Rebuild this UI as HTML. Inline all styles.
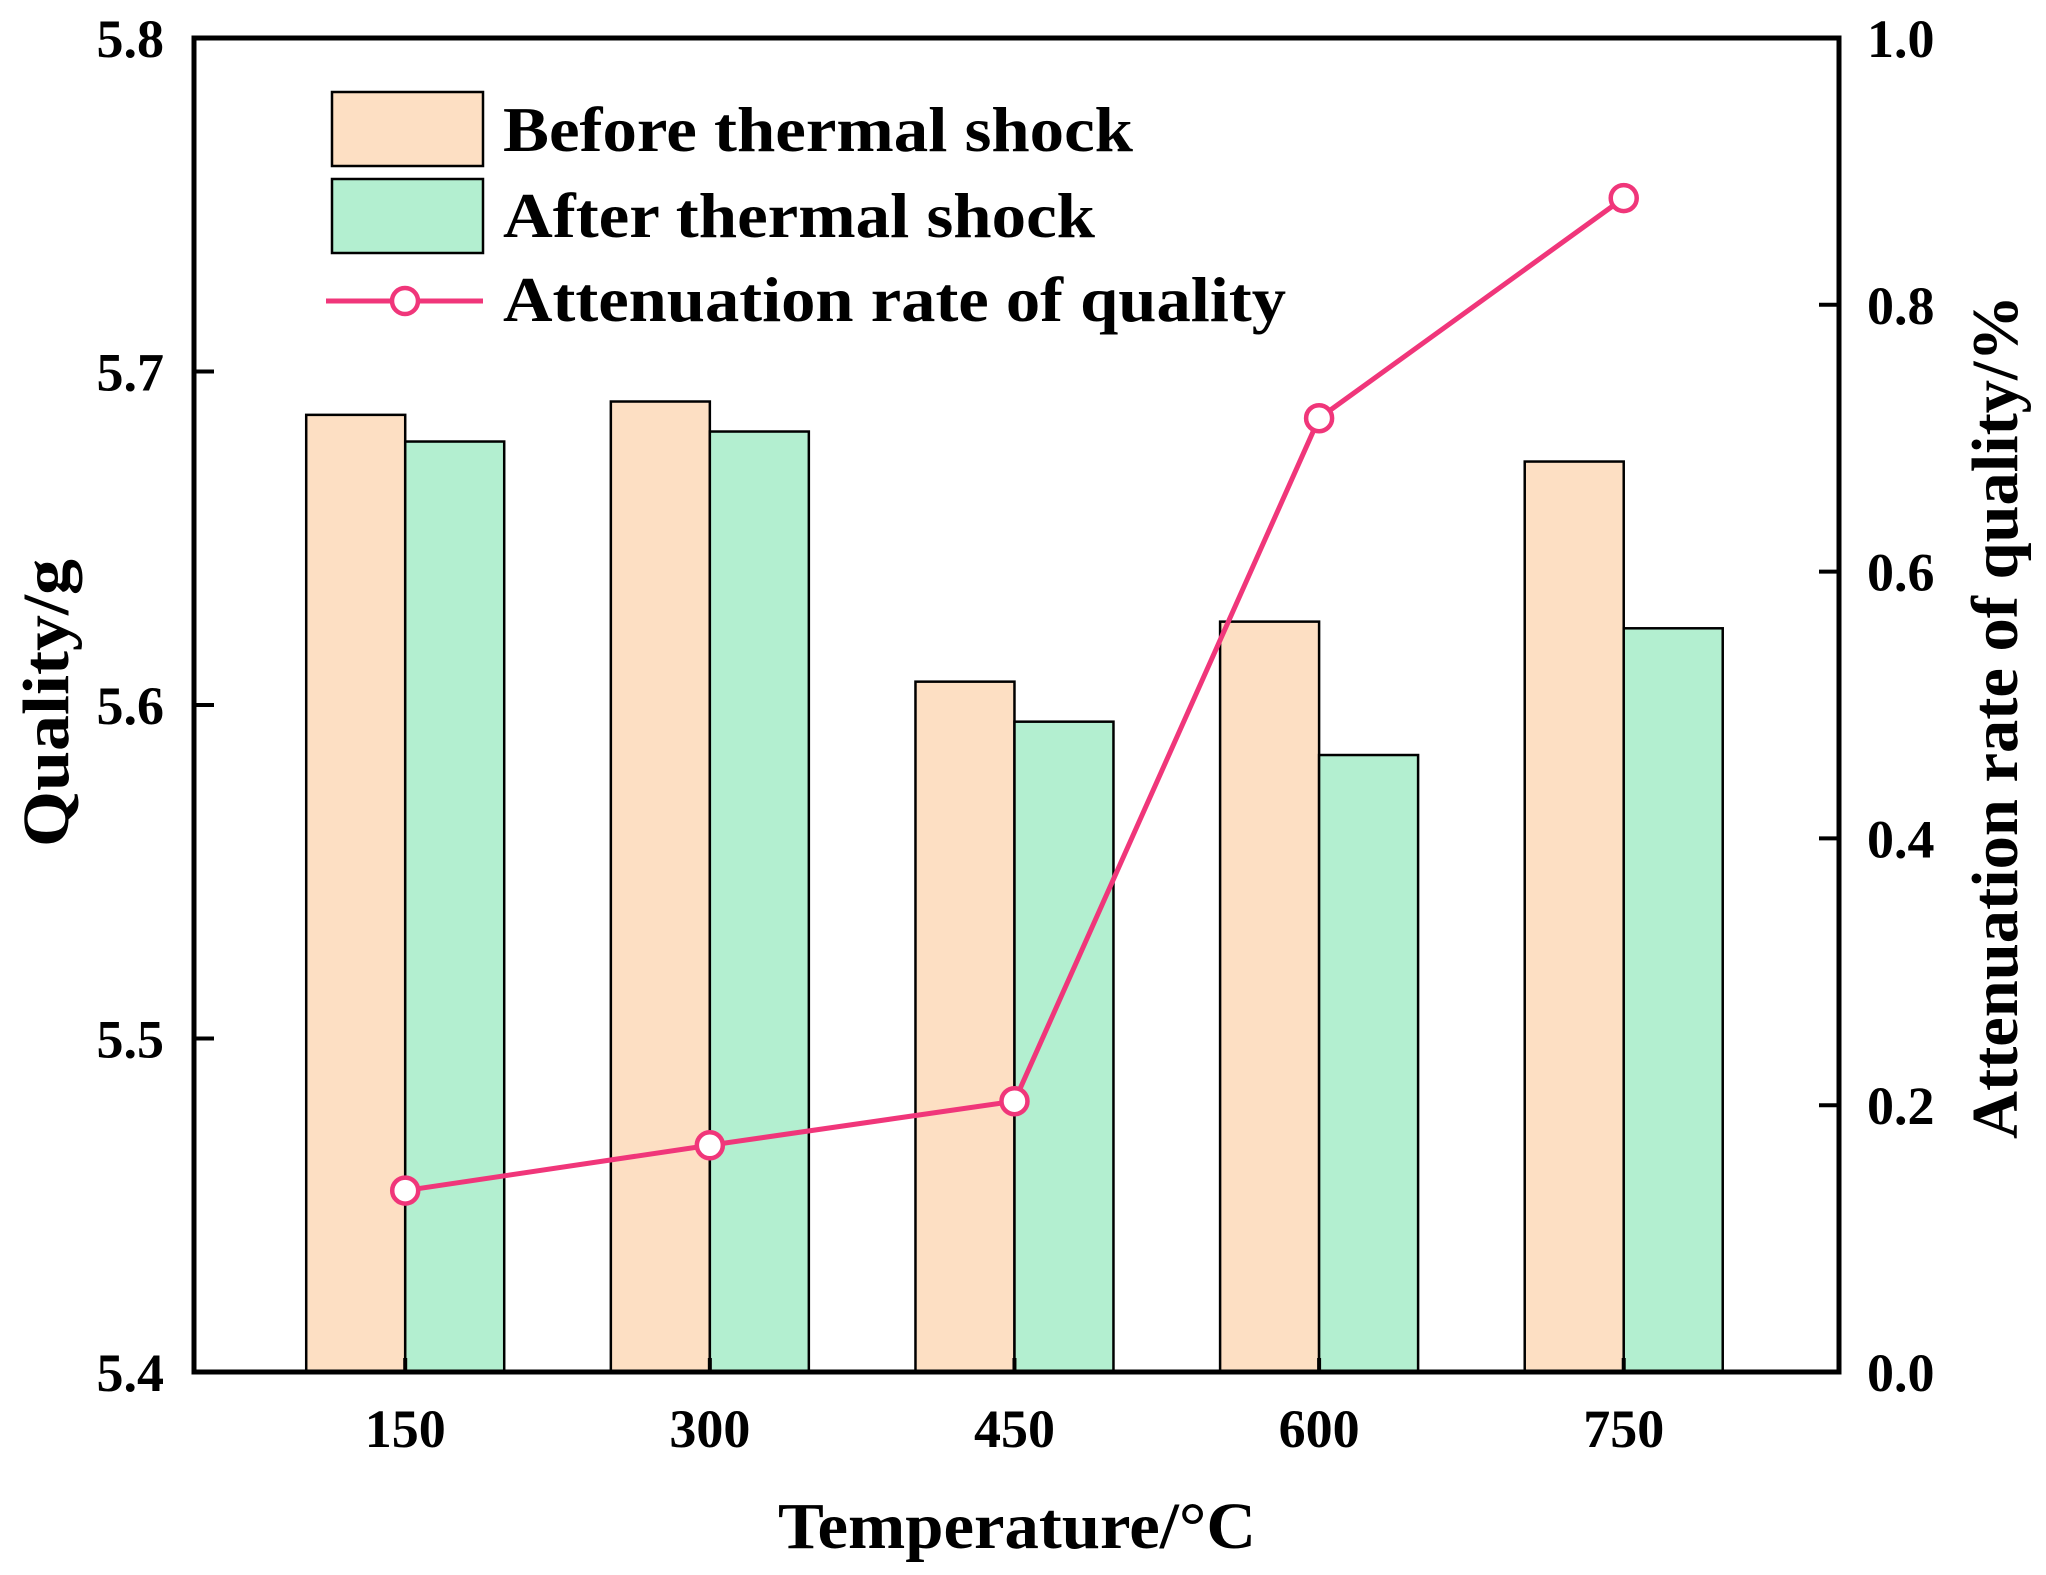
<!DOCTYPE html>
<html><head><meta charset="utf-8"><style>
html,body{margin:0;padding:0;background:#fff;}
svg{display:block;font-family:"Liberation Serif",serif;font-weight:bold;}
</style></head><body>
<svg id="chart" width="2046" height="1575" viewBox="0 0 2046 1575"></svg>
<script>
const categories = [150, 300, 450, 600, 750];
const beforeValues = [5.687, 5.691, 5.607, 5.625, 5.673];
const afterValues = [5.679, 5.682, 5.595, 5.585, 5.623];
const rateValues = [0.136, 0.170, 0.203, 0.715, 0.880];
const leftTicks = [5.4, 5.5, 5.6, 5.7, 5.8];
const rightTicks = [0.0, 0.2, 0.4, 0.6, 0.8, 1.0];

const NS = 'http://www.w3.org/2000/svg';
const svg = document.getElementById('chart');
const L = 194, R = 1839, T = 38, B = 1372;
const xMin = 46, xMax = 856;
const x = v => L + (v - xMin) / (xMax - xMin) * (R - L);
const yL = v => B - (v - 5.4) / 0.4 * (B - T);
const yR = v => B - v / 1.0 * (B - T);
const barW = 99;

function el(tag, attrs, parent) {
  const e = document.createElementNS(NS, tag);
  for (const k in attrs) e.setAttribute(k, attrs[k]);
  (parent || svg).appendChild(e);
  return e;
}

categories.forEach((c, i) => {
  const cx = x(c);
  const b = el('rect', {x: cx - barW, y: yL(beforeValues[i]), width: barW, height: B - yL(beforeValues[i]), fill: '#fddfc3', stroke: '#000', 'stroke-width': 2.5});
  
  
  const a = el('rect', {x: cx, y: yL(afterValues[i]), width: barW, height: B - yL(afterValues[i]), fill: '#b3efd0', stroke: '#000', 'stroke-width': 2.5});
  
  
});

const pts = categories.map((c, i) => x(c) + ',' + yR(rateValues[i])).join(' ');
const line = el('polyline', {points: pts, fill: 'none', stroke: '#f0367a', 'stroke-width': 5});


categories.forEach((c, i) => {
  const m = el('circle', {cx: x(c), cy: yR(rateValues[i]), r: 13, fill: '#fff', stroke: '#f0367a', 'stroke-width': 4.5});
  
  
});

const frame = el('rect', {x: L, y: T, width: R - L, height: B - T, fill: 'none', stroke: '#000', 'stroke-width': 5});



leftTicks.forEach(t => {
  const y = yL(t);
  el('line', {x1: L, x2: L + 20, y1: y, y2: y, stroke: '#000', 'stroke-width': 4});
  const tx = el('text', {x: 164, y: y + 19, 'text-anchor': 'end', 'font-size': 54});
  tx.textContent = t.toFixed(1);
  
  
});
rightTicks.forEach(t => {
  const y = yR(t);
  el('line', {x1: R - 20, x2: R, y1: y, y2: y, stroke: '#000', 'stroke-width': 4});
  const tx = el('text', {x: 1867, y: y + 19, 'text-anchor': 'start', 'font-size': 54});
  tx.textContent = t.toFixed(1);
  
  
});
categories.forEach(c => {
  el('line', {x1: x(c), x2: x(c), y1: B, y2: B - 14, stroke: '#000', 'stroke-width': 4});
  const tx = el('text', {x: x(c), y: 1447, 'text-anchor': 'middle', 'font-size': 54});
  tx.textContent = c;
  
  
});

const xt = el('text', {x: 1017, y: 1548, 'text-anchor': 'middle', 'font-size': 66, textLength: 478, lengthAdjust: 'spacingAndGlyphs'});
xt.textContent = 'Temperature/°C';


const ylt = el('text', {x: 0, y: 0, 'text-anchor': 'middle', 'font-size': 66, textLength: 288, lengthAdjust: 'spacingAndGlyphs', transform: 'translate(68,703) rotate(-90)'});
ylt.textContent = 'Quality/g';


const yrt = el('text', {x: 0, y: 0, 'text-anchor': 'middle', 'font-size': 66, textLength: 844, lengthAdjust: 'spacingAndGlyphs', transform: 'translate(2017,717) rotate(-90)'});
yrt.textContent = 'Attenuation rate of quality/%';



const lg = el('g', {});


const s1 = el('rect', {x: 332, y: 92, width: 151, height: 74, fill: '#fddfc3', stroke: '#000', 'stroke-width': 2.5}, lg);


const s2 = el('rect', {x: 332, y: 179, width: 151, height: 74, fill: '#b3efd0', stroke: '#000', 'stroke-width': 2.5}, lg);


const s3 = el('line', {x1: 326, x2: 483, y1: 301, y2: 301, stroke: '#f0367a', 'stroke-width': 5}, lg);


el('circle', {cx: 405, cy: 301, r: 13, fill: '#fff', stroke: '#f0367a', 'stroke-width': 4.5}, lg);
[['Before thermal shock', 151, 630], ['After thermal shock', 237, 592], ['Attenuation rate of quality', 321, 783]].forEach(([t, y, w]) => {
  const tx = el('text', {x: 503, y: y, 'font-size': 63, textLength: w, lengthAdjust: 'spacingAndGlyphs'}, lg);
  tx.textContent = t;
  
  
});
</script>
</body></html>
